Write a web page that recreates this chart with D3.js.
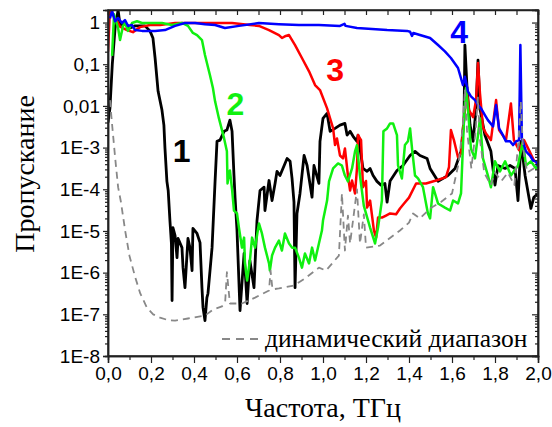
<!DOCTYPE html>
<html lang="ru">
<head>
  <meta charset="UTF-8" />
  <title>Пропускание</title>
  <script src="https://d3js.org/d3.v7.min.js"></script>
  <style>
    body { margin:0; padding:0; background:#fff; }
    svg { display:block; }
    .tick text { font-family:"Liberation Sans", Arial, sans-serif; font-size:19px; fill:#000; }
    .axis path, .axis line { stroke:#222; }
    .title { font-family:"Liberation Serif", "Times New Roman", serif; font-size:28px; fill:#000; }
    .num { font-family:"Liberation Sans", Arial, sans-serif; font-size:32px; font-weight:bold; }
  </style>
</head>
<body>
<svg width="552" height="427"></svg>
<script>
// frequency in THz, transmission as log10 (decades)
const curve1 = [[0.000,-2.4],[0.009,-2.06],[0.020,-1.0],[0.033,-0.13],[0.047,0.30],[0.056,-0.06],[0.079,-0.01],
  [0.102,-0.13],[0.126,-0.08],[0.172,-0.08],[0.195,-0.20],[0.209,-0.37],[0.219,-0.85],[0.233,-1.65],[0.251,-2.10],
  [0.260,-2.46],[0.265,-3.02],[0.274,-3.81],[0.280,-4.03],[0.288,-4.75],[0.295,-5.30],[0.298,-6.67],[0.302,-4.92],
  [0.312,-5.11],[0.321,-5.64],[0.326,-5.18],[0.344,-5.40],[0.349,-5.88],[0.358,-6.36],[0.372,-5.18],[0.381,-5.40],
  [0.391,-5.95],[0.395,-4.94],[0.414,-5.06],[0.428,-5.28],[0.437,-6.36],[0.442,-6.84],[0.451,-7.15],[0.460,-6.60],
  [0.465,-6.50],[0.484,-5.40],[0.498,-3.81],[0.507,-2.85],[0.521,-2.82],[0.540,-2.61],[0.553,-2.58],[0.567,-2.34],
  [0.577,-2.61],[0.586,-3.67],[0.591,-4.20],[0.600,-4.99],[0.614,-6.91],[0.633,-5.54],[0.647,-6.74],[0.660,-5.71],
  [0.679,-6.36],[0.693,-4.75],[0.707,-4.03],[0.726,-3.95],[0.730,-4.51],[0.749,-3.79],[0.763,-4.27],[0.777,-3.86],
  [0.786,-3.57],[0.800,-3.67],[0.833,-3.26],[0.847,-3.33],[0.856,-3.74],[0.865,-4.30],[0.870,-6.36],[0.879,-4.58],
  [0.893,-4.10],[0.912,-3.19],[0.926,-3.43],[0.949,-4.19],[0.958,-3.43],[0.981,-3.86],[0.986,-2.85],[1.000,-2.30],
  [1.019,-2.18],[1.033,-2.61],[1.056,-2.54],[1.079,-2.46],[1.102,-2.42],[1.112,-2.70],[1.126,-2.61],[1.140,-2.73],
  [1.158,-2.85],[1.163,-2.70],[1.172,-3.02],[1.186,-3.50],[1.205,-3.57],[1.219,-3.50],[1.233,-3.67],[1.251,-3.81],
  [1.270,-3.90],[1.288,-3.86],[1.298,-4.31],[1.312,-3.80],[1.344,-3.55],[1.372,-3.43],[1.405,-3.19],[1.428,-3.09],
  [1.451,-3.19],[1.484,-3.26],[1.498,-3.50],[1.535,-3.81],[1.581,-3.67],[1.614,-3.50],[1.642,-3.09],[1.656,-2.30],
  [1.660,-0.54],[1.670,-1.57],[1.684,-2.46],[1.698,-2.85],[1.712,-2.06],[1.721,-0.90],[1.730,-2.06],[1.753,-2.70],
  [1.781,-3.09],[1.800,-3.90],[1.814,-3.43],[1.847,-3.50],[1.870,-3.43],[1.893,-3.50],[1.907,-4.27],[1.921,-2.85],
  [1.940,-3.67],[1.967,-4.46],[1.980,-4.20],[2.000,-4.10]];

const curve2 = [[0.019,-0.80],[0.028,0.20],[0.033,0.10],[0.047,-0.13],[0.056,-0.42],[0.070,-0.08],[0.079,-0.01],
  [0.093,-0.20],[0.112,-0.01],[0.135,0.03],[0.158,-0.01],[0.205,-0.01],[0.251,-0.01],[0.298,-0.06],[0.344,-0.01],
  [0.372,-0.08],[0.395,-0.25],[0.414,-0.30],[0.437,-0.42],[0.451,-0.78],[0.474,-1.26],[0.488,-1.57],[0.498,-1.89],
  [0.516,-2.30],[0.540,-2.78],[0.553,-3.09],[0.556,-3.86],[0.563,-3.60],[0.567,-3.55],[0.577,-4.00],[0.586,-4.51],
  [0.600,-4.58],[0.609,-4.92],[0.623,-5.40],[0.633,-5.16],[0.637,-5.78],[0.647,-6.19],[0.660,-5.71],[0.670,-5.16],
  [0.684,-5.40],[0.702,-4.82],[0.716,-5.06],[0.730,-5.40],[0.749,-5.78],[0.753,-5.95],[0.763,-5.59],[0.777,-5.40],
  [0.795,-5.23],[0.809,-5.47],[0.823,-5.06],[0.842,-5.30],[0.856,-5.40],[0.870,-5.40],[0.888,-5.64],[0.902,-5.88],
  [0.916,-5.54],[0.935,-5.78],[0.949,-5.40],[0.963,-5.71],[0.981,-5.30],[0.995,-4.99],[1.000,-4.75],[1.019,-4.27],
  [1.028,-3.81],[1.047,-3.50],[1.070,-3.38],[1.088,-3.43],[1.102,-3.67],[1.116,-3.81],[1.135,-3.50],[1.149,-3.09],
  [1.158,-2.94],[1.172,-3.67],[1.190,-4.40],[1.219,-4.92],[1.242,-5.30],[1.256,-4.92],[1.274,-4.27],[1.281,-2.61],
  [1.298,-2.54],[1.312,-2.42],[1.326,-2.42],[1.344,-2.70],[1.349,-3.43],[1.367,-3.74],
  [1.381,-2.94],[1.395,-2.85],[1.405,-2.54],[1.414,-3.02],[1.428,-3.67],[1.442,-3.74],[1.465,-3.95],[1.488,-4.58],
  [1.498,-4.70],[1.512,-3.95],[1.535,-4.34],[1.567,-4.44],[1.591,-4.51],[1.605,-4.27],[1.628,-4.34],[1.642,-4.10],
  [1.656,-2.30],[1.665,-1.57],[1.674,-2.06],[1.688,-3.02],[1.707,-3.26],[1.721,-2.70],[1.730,-2.30],[1.744,-3.26],
  [1.767,-3.67],[1.781,-3.95],[1.800,-3.33],[1.823,-3.57],[1.847,-3.33],[1.874,-3.67],[1.907,-3.43],[1.930,-2.85],
  [1.944,-3.43],[1.967,-3.33],[1.991,-3.50],[2.000,-3.43]];

const curve3 = [[0.000,-0.70],[0.009,0.30],[0.020,0.20],[0.033,0.11],[0.056,-0.10],[0.088,-0.18],[0.116,-0.23],
  [0.149,-0.11],[0.195,-0.06],[0.242,-0.06],[0.312,-0.01],[0.400,-0.01],[0.500,-0.01],[0.577,-0.01],[0.660,-0.06],
  [0.702,-0.08],[0.749,-0.18],[0.795,-0.30],[0.809,-0.37],[0.823,-0.33],[0.842,-0.30],[0.870,-0.54],[0.902,-0.85],
  [0.935,-1.17],[0.963,-1.50],[0.986,-1.62],[1.019,-2.06],[1.033,-2.30],[1.047,-2.54],[1.056,-2.94],[1.065,-2.78],
  [1.079,-3.19],[1.093,-3.26],[1.102,-3.02],[1.116,-3.67],[1.126,-4.03],[1.135,-3.79],[1.149,-4.10],[1.158,-3.50],
  [1.163,-2.70],[1.177,-2.82],[1.186,-3.95],[1.200,-3.80],[1.205,-4.44],[1.219,-4.27],[1.237,-4.99],[1.247,-5.16],
  [1.256,-4.68],[1.274,-4.68],[1.293,-4.63],[1.312,-4.58],[1.340,-4.60],[1.358,-4.46],[1.377,-4.34],[1.400,-4.20],
  [1.433,-3.86],[1.465,-3.86],[1.479,-3.86],[1.526,-3.79],[1.572,-3.71],[1.586,-3.47],[1.595,-2.58],[1.609,-2.82],
  [1.628,-3.23],[1.642,-3.14],[1.656,-2.27],[1.670,-1.69],[1.679,-2.10],[1.698,-2.27],[1.712,-1.86],[1.721,-0.97],
  [1.730,-1.69],[1.744,-2.51],[1.758,-2.66],[1.781,-2.82],[1.805,-1.86],[1.819,-2.58],[1.851,-2.82],[1.874,-1.94],
  [1.888,-2.82],[1.912,-3.06],[1.935,-2.82],[1.958,-3.06],[1.981,-3.31],[2.000,-3.38]];

const curve4 = [[0.009,0.10],[0.019,0.28],[0.033,0.03],[0.047,0.11],[0.065,-0.01],[0.079,0.06],[0.093,-0.08],
  [0.112,-0.06],[0.126,-0.18],[0.158,-0.20],[0.219,-0.20],[0.265,-0.18],[0.312,-0.08],[0.358,-0.01],[0.405,-0.01],
  [0.451,-0.04],[0.498,-0.06],[0.544,-0.13],[0.609,-0.08],[0.702,-0.01],[0.795,-0.04],[0.888,-0.06],[0.981,-0.06],
  [1.079,-0.08],[1.100,-0.03],[1.105,-0.08],[1.158,-0.13],[1.298,-0.18],[1.391,-0.20],[1.405,-0.22],[1.414,-0.32],
  [1.420,-0.25],[1.451,-0.30],[1.498,-0.37],[1.535,-0.54],[1.567,-0.69],[1.595,-0.85],[1.628,-1.09],[1.651,-1.50],
  [1.660,-1.30],[1.674,-1.65],[1.688,-1.77],[1.707,-1.86],[1.721,-1.98],[1.735,-2.06],[1.753,-2.22],[1.767,-2.34],
  [1.791,-2.49],[1.805,-1.98],[1.819,-2.54],[1.837,-2.70],[1.851,-2.85],[1.870,-2.85],[1.884,-2.94],[1.898,-2.85],
  [1.912,-2.82],[1.918,-0.54],[1.925,-2.78],[1.944,-3.09],[1.963,-3.19],[1.977,-3.31],[1.991,-3.33],[2.000,-3.45]];

const dynRange = [[0.009,-1.86],[0.020,-2.50],[0.033,-3.23],[0.047,-3.95],[0.060,-4.30],[0.080,-5.00],[0.100,-5.60],
  [0.126,-6.10],[0.150,-6.50],[0.181,-6.84],[0.210,-7.00],[0.242,-7.08],[0.280,-7.14],[0.312,-7.15],[0.372,-7.10],
  [0.451,-7.03],[0.488,-6.89],[0.530,-6.81],[0.545,-6.70],[0.553,-5.99],[0.567,-6.74],[0.623,-6.74],[0.684,-6.60],
  [0.749,-6.43],[0.756,-5.95],[0.765,-6.40],[0.795,-6.38],[0.865,-6.31],[0.916,-6.14],[0.981,-5.88],[1.014,-5.95],
  [1.074,-5.59],[1.088,-4.10],[1.102,-5.47],[1.116,-4.63],[1.126,-5.30],[1.158,-4.00],[1.172,-5.30],[1.190,-4.60],
  [1.200,-5.40],[1.265,-5.35],[1.358,-4.99],[1.400,-4.80],[1.419,-4.58],[1.451,-4.70],[1.498,-4.46],[1.550,-4.30],
  [1.600,-4.10],[1.630,-3.40],[1.650,-2.50],[1.660,-1.60],[1.670,-2.60],[1.690,-3.50],[1.710,-2.60],[1.720,-1.80],
  [1.730,-2.80],[1.750,-3.60],[1.780,-3.90],[1.800,-3.60],[1.830,-3.80],[1.860,-3.60],[1.890,-3.90],[1.910,-2.80],
  [1.920,-1.90],[1.930,-3.00],[1.950,-3.60],[1.980,-3.50],[2.000,-3.60]];

const xTicks = [0, 0.2, 0.4, 0.6, 0.8, 1.0, 1.2, 1.4, 1.6, 1.8, 2.0];
const yTicks = [1, 0.1, 0.01, 1e-3, 1e-4, 1e-5, 1e-6, 1e-7, 1e-8];
const yTickLabels = ["1", "0,1", "0,01", "1E-3", "1E-4", "1E-5", "1E-6", "1E-7", "1E-8"];
// curve numbers: centre frequency and baseline transmission
const curveLabels = [
  {text:"1", f:0.342, v:4.5e-4, color:"#000"},
  {text:"2", f:0.593, v:6e-3, color:"#10f010"},
  {text:"3", f:1.056, v:3.9e-2, color:"#ff0000"},
  {text:"4", f:1.633, v:0.32, color:"#0000ff"}
];
const legendText = "динамический диапазон";

const W = 552, H = 427;
const M = {top:10, right:14, bottom:71, left:108};
const svg = d3.select("svg");

const x = d3.scaleLinear().domain([0, 2]).range([M.left, W - M.right]);
const y = d3.scaleLog().domain([1e-8, 2]).range([H - M.bottom, M.top]);

svg.append("clipPath").attr("id", "plotclip")
  .append("rect")
  .attr("x", M.left).attr("y", M.top)
  .attr("width", W - M.left - M.right).attr("height", H - M.top - M.bottom);

const line = d3.line()
  .x(d => x(d[0]))
  .y(d => y(Math.pow(10, d[1])));

const g = svg.append("g").attr("clip-path", "url(#plotclip)");

function draw(data, color, width, dash) {
  g.append("path")
    .datum(data)
    .attr("fill", "none")
    .attr("stroke", color)
    .attr("stroke-width", width)
    .attr("stroke-linejoin", "round")
    .attr("stroke-dasharray", dash || null)
    .attr("d", line);
}
draw(curve1, "#000", 2.8);
draw(curve3, "#ff0000", 2.5);
draw(curve2, "#10f010", 2.5);
draw(curve4, "#0000ff", 2.5);
draw(dynRange, "#888", 1.8, "7,5");

// minor tick values
const xMinor = d3.range(0.1, 2.0, 0.2);
const yMinor = [];
for (let k = -8; k <= 0; k++) {
  for (let m = 2; m <= 9; m++) {
    const v = m * Math.pow(10, k);
    if (v <= 2) yMinor.push(v);
  }
}
const fmtX = d => d3.format(".1f")(d).replace(".", ",");

// bottom axis
svg.append("g").attr("class", "axis").attr("transform", `translate(0,${H - M.bottom})`)
  .call(d3.axisBottom(x).tickValues(xTicks).tickSize(7).tickPadding(4).tickFormat(fmtX));
svg.append("g").attr("class", "axis").attr("transform", `translate(0,${H - M.bottom})`)
  .call(d3.axisBottom(x).tickValues(xMinor).tickSize(4).tickFormat(""));
// top axis (inward)
svg.append("g").attr("class", "axis").attr("transform", `translate(0,${M.top})`)
  .call(d3.axisBottom(x).tickValues(xTicks.concat(xMinor)).tickSize(5).tickFormat(""));

// left axis
svg.append("g").attr("class", "axis").attr("transform", `translate(${M.left},0)`)
  .call(d3.axisLeft(y).tickValues(yTicks).tickSize(5).tickPadding(3)
    .tickFormat((d, i) => yTickLabels[i]));
svg.append("g").attr("class", "axis").attr("transform", `translate(${M.left},0)`)
  .call(d3.axisLeft(y).tickValues(yMinor).tickSize(3).tickFormat(""));
// right axis (inward)
svg.append("g").attr("class", "axis").attr("transform", `translate(${W - M.right},0)`)
  .call(d3.axisLeft(y).tickValues(yTicks).tickSize(6).tickFormat(""));
svg.append("g").attr("class", "axis").attr("transform", `translate(${W - M.right},0)`)
  .call(d3.axisLeft(y).tickValues(yMinor).tickSize(3).tickFormat(""));

svg.selectAll(".axis path").attr("stroke-width", 1.5);
svg.selectAll(".axis line").attr("stroke-width", 1.2);

// frame
svg.append("rect")
  .attr("x", M.left).attr("y", M.top)
  .attr("width", W - M.left - M.right).attr("height", H - M.top - M.bottom)
  .attr("fill", "none").attr("stroke", "#222").attr("stroke-width", 1.5);

// curve numbers
svg.selectAll(".num").data(curveLabels).enter().append("text")
  .attr("class", "num")
  .attr("x", d => x(d.f))
  .attr("y", d => y(d.v))
  .attr("text-anchor", "middle")
  .attr("fill", d => d.color)
  .text(d => d.text);

// legend
const lgY = 339;
svg.append("line")
  .attr("x1", 222).attr("x2", 262).attr("y1", lgY).attr("y2", lgY)
  .attr("stroke", "#888").attr("stroke-width", 1.8).attr("stroke-dasharray", "8,6");
svg.append("text").attr("class", "title")
  .attr("x", 265).attr("y", lgY + 8)
  .style("font-size", "25.5px")
  .text(legendText);

// axis titles
svg.append("text").attr("class", "title")
  .attr("x", (M.left + W - M.right) / 2).attr("y", 417)
  .attr("text-anchor", "middle")
  .text("Частота, ТГц");
svg.append("text").attr("class", "title")
  .attr("transform", "translate(34,174) rotate(-90)")
  .attr("text-anchor", "middle")
  .text("Пропускание");
</script>
</body>
</html>
